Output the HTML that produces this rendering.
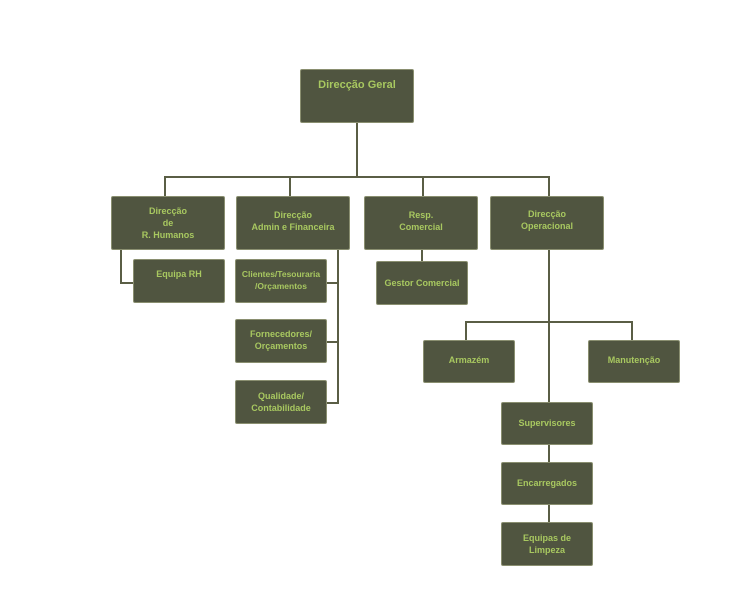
<!DOCTYPE html><html><head><style>
body{margin:0;width:750px;height:600px;background:#fff;position:relative;overflow:hidden;font-family:"Liberation Sans",sans-serif}
.b{position:absolute;box-sizing:border-box;background:#505540;border:1.5px solid #8a8f70;border-radius:2px;color:#a8c860;font-weight:bold;font-size:9px;line-height:12px;text-align:center}
.l{position:absolute;background:#5a5e45}
.h{height:2px}.v{width:2px}
</style></head><body>
<div class="l v" style="left:356px;top:122px;height:56px"></div>
<div class="l h" style="left:164px;top:176px;width:386px"></div>
<div class="l v" style="left:164px;top:176px;height:20px"></div>
<div class="l v" style="left:289px;top:176px;height:20px"></div>
<div class="l v" style="left:422px;top:176px;height:20px"></div>
<div class="l v" style="left:548px;top:176px;height:20px"></div>
<div class="l v" style="left:120px;top:249px;height:35px"></div>
<div class="l h" style="left:120px;top:282px;width:14px"></div>
<div class="l v" style="left:337px;top:249px;height:155px"></div>
<div class="l h" style="left:326px;top:282px;width:13px"></div>
<div class="l h" style="left:326px;top:341px;width:13px"></div>
<div class="l h" style="left:326px;top:402px;width:13px"></div>
<div class="l v" style="left:421px;top:249px;height:12px"></div>
<div class="l v" style="left:548px;top:249px;height:290px"></div>
<div class="l h" style="left:465px;top:321px;width:168px"></div>
<div class="l v" style="left:465px;top:321px;height:20px"></div>
<div class="l v" style="left:631px;top:321px;height:20px"></div>

<div class="b" style="left:300px;top:69px;width:114px;height:54px;font-size:11px;padding-top:9px">Direcção Geral</div>
<div class="b" style="left:111px;top:196px;width:114px;height:54px;padding-top:8px">Direcção<br>de<br>R. Humanos</div>
<div class="b" style="left:236px;top:196px;width:114px;height:54px;padding-top:12px">Direcção<br>Admin e Financeira</div>
<div class="b" style="left:364px;top:196px;width:114px;height:54px;padding-top:12px">Resp.<br>Comercial</div>
<div class="b" style="left:490px;top:196px;width:114px;height:54px;padding-top:11px">Direcção<br>Operacional</div>
<div class="b" style="left:133px;top:259px;width:92px;height:44px;padding-top:8px">Equipa RH</div>
<div class="b" style="left:235px;top:259px;width:92px;height:44px;padding-top:8px;font-size:8.5px">Clientes/Tesouraria<br>/Orçamentos</div>
<div class="b" style="left:235px;top:319px;width:92px;height:44px;padding-top:8px">Fornecedores/<br>Orçamentos</div>
<div class="b" style="left:235px;top:380px;width:92px;height:44px;padding-top:9px">Qualidade/<br>Contabilidade</div>
<div class="b" style="left:376px;top:261px;width:92px;height:44px;padding-top:15px">Gestor Comercial</div>
<div class="b" style="left:423px;top:340px;width:92px;height:43px;padding-top:13px">Armazém</div>
<div class="b" style="left:588px;top:340px;width:92px;height:43px;padding-top:13px">Manutenção</div>
<div class="b" style="left:501px;top:402px;width:92px;height:43px;padding-top:14px">Supervisores</div>
<div class="b" style="left:501px;top:462px;width:92px;height:43px;padding-top:14px">Encarregados</div>
<div class="b" style="left:501px;top:522px;width:92px;height:44px;padding-top:9px">Equipas de<br>Limpeza</div>
</body></html>
